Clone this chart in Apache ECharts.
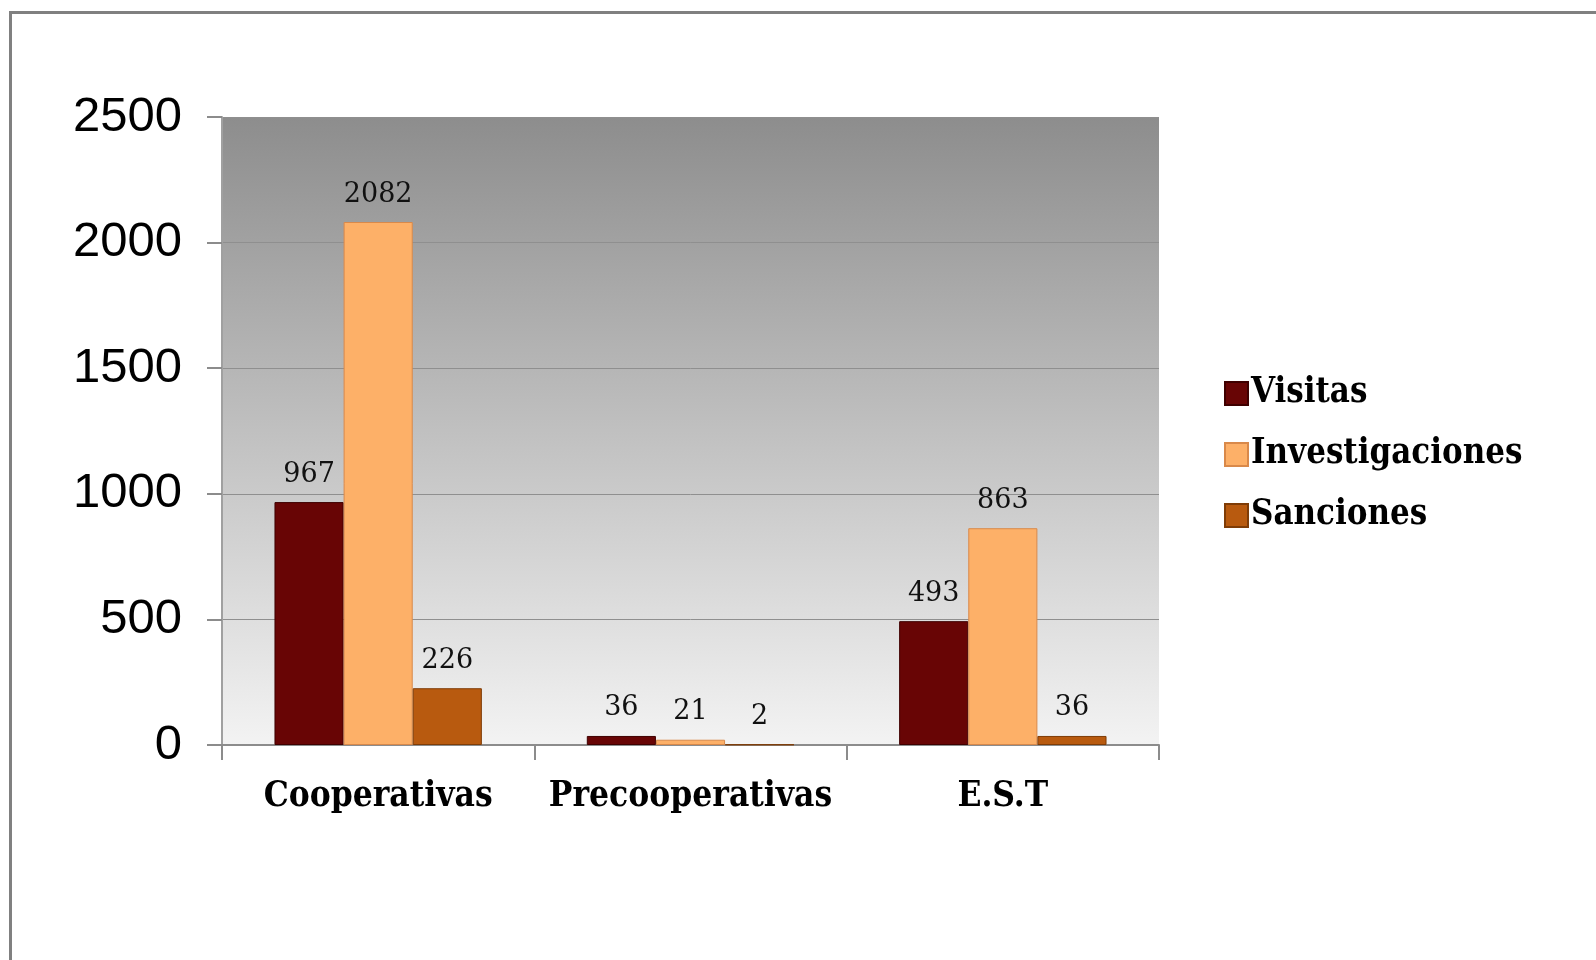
<!DOCTYPE html>
<html>
<head>
<meta charset="utf-8">
<script src="https://cdn.jsdelivr.net/npm/echarts@6/dist/echarts.min.js"></script>
<style>
html,body{margin:0;padding:0;background:#fff;}
#c{width:1596px;height:960px;}
</style>
</head>
<body>
<div id="c"></div>
<script>
const categories = ['Cooperativas', 'Precooperativas', 'E.S.T'];
const seriesNames = ['Visitas', 'Investigaciones', 'Sanciones'];
const visitas = [967, 36, 493];
const investigaciones = [2082, 21, 863];
const sanciones = [226, 2, 36];
const yTicks = [0, 500, 1000, 1500, 2000, 2500];

const colors = ['#680505', '#FDB068', '#B85A0F'];
const borders = ['#3f0000', '#d9894a', '#7f3c06'];
const serif = '"DejaVu Serif", serif';
const serifCond = '"DejaVu Serif Condensed", "DejaVu Serif", serif';

const chart = echarts.init(document.getElementById('c'));
function mk(name, data, i) {
  return {
    name: name, type: 'bar', data: data,
    barGap: '0%', barCategoryGap: '33.6%',
    itemStyle: {
      color: colors[i],
      borderColor: borders[i], borderWidth: 1
    },
    label: {show: true, position: 'top', distance: 14, fontFamily: serif,
      fontSize: 27, color: '#111'}
  };
}
chart.setOption({
  animation: false,
  graphic: [{type:'rect', shape:{x:10.5, y:12.5, width:2000, height:2000},
    style:{fill:'none', stroke:'#808080', lineWidth:3}, z:-10}],
  grid: {left: 222, right: 437, top: 117, bottom: 215, show: true,
    borderWidth: 0,
    backgroundColor: {type:'linear', x:0, y:0, x2:0, y2:1, colorStops:[
      {offset:0, color:'#8d8d8d'}, {offset:1, color:'#f3f3f3'}]}},
  legend: {orient: 'vertical', left: 1219, top: 371, itemWidth: 23, itemHeight: 23,
    itemGap: 26, icon: 'rect',
    textStyle: {fontFamily: serifCond, fontSize: 34.5, fontWeight: 'bold', color: '#000', padding:[0,0,0,-2]},
    data: seriesNames},
  xAxis: {type: 'category', data: categories,
    axisLine: {lineStyle: {color: '#8c8c8c', width: 2}},
    axisTick: {show: true, length: 15, lineStyle: {color: '#8c8c8c', width: 2}},
    axisLabel: {interval: 0, margin: 34, fontFamily: serifCond, fontSize: 35, fontWeight: 'bold', color: '#000'}},
  yAxis: {type: 'value', min: yTicks[0], max: yTicks[yTicks.length-1], interval: 500,
    axisLine: {show: true, lineStyle: {color: '#a0a0a0', width: 2}},
    axisTick: {show: true, length: 15, lineStyle: {color: '#8c8c8c', width: 2}},
    splitLine: {lineStyle: {color: '#8f8f8f', width: 1}},
    axisLabel: {margin: 40, padding: [8, 0, 0, 0], formatter: v => String(v), fontFamily: '"Liberation Sans", Arial, sans-serif', fontSize: 49, color: '#000'}},
  series: [mk(seriesNames[0], visitas, 0), mk(seriesNames[1], investigaciones, 1), mk(seriesNames[2], sanciones, 2)]
});
</script>
</body>
</html>
